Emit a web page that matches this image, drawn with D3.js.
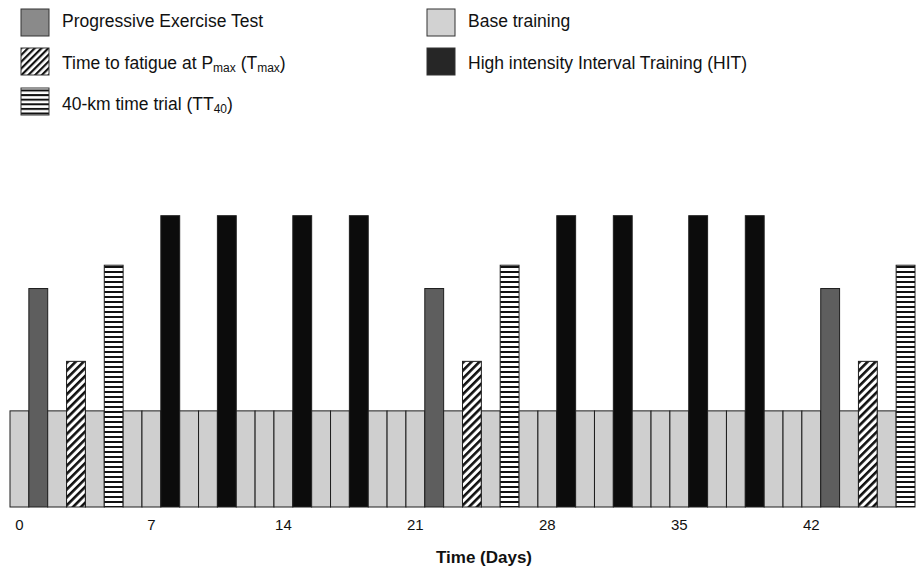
<!DOCTYPE html>
<html>
<head>
<meta charset="utf-8">
<script src="https://cdn.jsdelivr.net/npm/d3@7"></script>
<style>
  html, body { margin: 0; padding: 0; background: #ffffff; }
  svg { display: block; font-family: "Liberation Sans", Arial, sans-serif; }
</style>
</head>
<body>
<svg id="chart" width="920" height="569"></svg>
<script>
// ---- data ----
const days = [0,1,2,3,4,5,6,7,8,9,10,11,12,13,14,15,16,17,18,19,20,21,22,23,
              24,25,26,27,28,29,30,31,32,33,34,35,36,37,38,39,40,41,42,43,44,45,46,47];
// activity scheduled on each day
const schedule = ["base","pet","base","tmax","base","tt40","base","base","hit","base","base","hit",
                  "base","base","base","hit","base","base","hit","base","base","base","pet","base",
                  "tmax","base","tt40","base","base","hit","base","base","hit","base","base","base",
                  "hit","base","base","hit","base","base","base","pet","base","tmax","base","tt40"];
// relative intensity (bar height) of each activity type
const activityKeys = ["pet","tmax","tt40","base","hit"];
const activityIntensity = [75, 50, 83, 33, 100];
const tickDays = [0,7,14,21,28,35,42];
const xTitle = "Time (Days)";

// ---- setup ----
const svg = d3.select("#chart");
const defs = svg.append("defs");

const tmaxPat = defs.append("pattern").attr("id","pTmax")
  .attr("patternUnits","userSpaceOnUse").attr("width",5.6).attr("height",10)
  .attr("patternTransform","rotate(45)");
tmaxPat.append("rect").attr("width",5.6).attr("height",10).attr("fill","#fff");
tmaxPat.append("rect").attr("width",2.6).attr("height",10).attr("fill","#111");

const tmaxPatL = defs.append("pattern").attr("id","pTmaxL")
  .attr("patternUnits","userSpaceOnUse").attr("width",4.8).attr("height",10)
  .attr("patternTransform","rotate(45)");
tmaxPatL.append("rect").attr("width",4.8).attr("height",10).attr("fill","#fff");
tmaxPatL.append("rect").attr("width",2.2).attr("height",10).attr("fill","#111");

const ttPat = defs.append("pattern").attr("id","pTT")
  .attr("patternUnits","userSpaceOnUse").attr("width",10).attr("height",5)
  .attr("y", 1);
ttPat.append("rect").attr("width",10).attr("height",5).attr("fill","#fff");
ttPat.append("rect").attr("width",10).attr("height",2).attr("fill","#111");

const ttPatL = defs.append("pattern").attr("id","pTTL")
  .attr("patternUnits","userSpaceOnUse").attr("width",10).attr("height",4.6)
  .attr("y", 89.5);
ttPatL.append("rect").attr("width",10).attr("height",4.6).attr("fill","#fff");
ttPatL.append("rect").attr("width",10).attr("height",2).attr("fill","#111");

const fills = {
  base: "#cfcfcf",
  pet: "#5e5e5e",
  tmax: "url(#pTmax)",
  tt40: "url(#pTT)",
  hit: "#0c0c0c"
};
const legendFills = {
  base: "#d2d2d2",
  pet: "#8a8a8a",
  tmax: "url(#pTmaxL)",
  tt40: "url(#pTTL)",
  hit: "#262626"
};
const intensity = new Map(activityKeys.map((k,i)=>[k, activityIntensity[i]]));

const x = d3.scaleBand().domain(days).range([10, 915]).padding(0);
const y = d3.scaleLinear().domain([0, 100]).range([507, 215.7]);

// bars
svg.append("g").selectAll("rect")
  .data(days.map((d,i)=>({day:d, type:schedule[i]})))
  .join("rect")
  .attr("x", d => x(d.day))
  .attr("width", x.bandwidth())
  .attr("y", d => y(intensity.get(d.type)))
  .attr("height", d => y(0) - y(intensity.get(d.type)))
  .attr("fill", d => fills[d.type])
  .attr("stroke", "#1e1e1e")
  .attr("stroke-width", 1);

// x axis (labels only)
const xAxis = d3.axisBottom(x).tickValues(tickDays).tickSize(0).tickPadding(12);
const gx = svg.append("g").attr("transform", "translate(0,507)").call(xAxis);
gx.select(".domain").remove();
gx.selectAll("text").attr("font-size", 15).attr("fill", "#111")
  .attr("font-family", "Liberation Sans, Arial, sans-serif");

svg.append("text").attr("x", 484).attr("y", 563).attr("text-anchor","middle")
  .attr("font-size", 17).attr("font-weight","bold").attr("fill","#111").text(xTitle);

// legend
const legend = [
  {type:"pet",  x:21,  sy:9,  ty:27,  parts:[["Progressive Exercise Test",0]]},
  {type:"tmax", x:21,  sy:48, ty:69,  parts:[["Time to fatigue at P",0],["max",1],[" (T",0],["max",1],[")",0]]},
  {type:"tt40", x:21,  sy:88, ty:110, parts:[["40-km time trial (TT",0],["40",1],[")",0]]},
  {type:"base", x:427, sy:9,  ty:27,  parts:[["Base training",0]]},
  {type:"hit",  x:427, sy:48, ty:69,  parts:[["High intensity Interval Training (HIT)",0]]}
];
const lg = svg.append("g");
legend.forEach(l => {
  lg.append("rect").attr("x", l.x).attr("y", l.sy).attr("width", 28).attr("height", 27)
    .attr("fill", legendFills[l.type])
    .attr("stroke", "#333").attr("stroke-width", 1);
  const t = lg.append("text").attr("x", l.x + 41).attr("y", l.ty)
    .attr("font-size", 17.5).attr("fill", "#111");
  l.parts.forEach(p => {
    const ts = t.append("tspan").text(p[0]);
    if (p[1]) ts.attr("font-size", 12).attr("dy", 3);
    else if (t.selectAll("tspan").size() > 1) ts.attr("dy", -3);
  });
});
</script>
</body>
</html>
